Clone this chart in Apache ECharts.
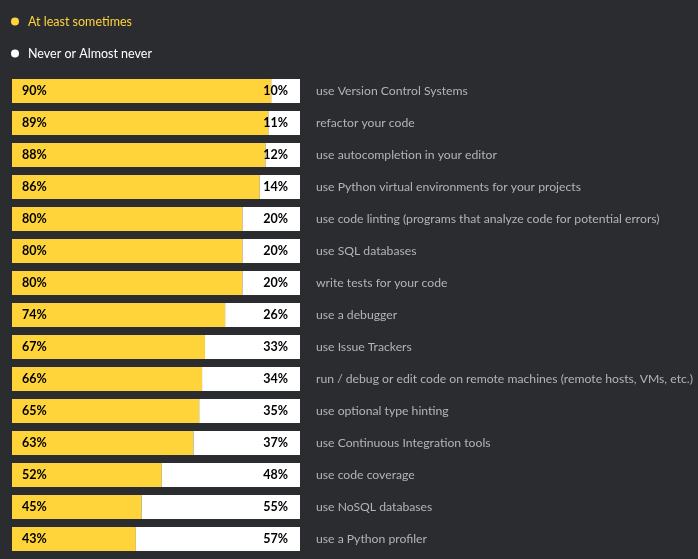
<!DOCTYPE html>
<html><head><meta charset="utf-8">
<script src="https://cdn.jsdelivr.net/npm/echarts@6/dist/echarts.min.js"></script>
<style>html,body{margin:0;padding:0;background:#2b2c30;}#c{width:698px;height:559px;}</style>
</head><body><div id="c"></div>
<script>
const categories = [
  "use Version Control Systems",
  "refactor your code",
  "use autocompletion in your editor",
  "use Python virtual environments for your projects",
  "use code linting (programs that analyze code for potential errors)",
  "use SQL databases",
  "write tests for your code",
  "use a debugger",
  "use Issue Trackers",
  "run / debug or edit code on remote machines (remote hosts, VMs, etc.)",
  "use optional type hinting",
  "use Continuous Integration tools",
  "use code coverage",
  "use NoSQL databases",
  "use a Python profiler"
];
const atLeastSometimes = [90, 89, 88, 86, 80, 80, 80, 74, 67, 66, 65, 63, 52, 45, 43];
const neverOrAlmostNever = [10, 11, 12, 14, 20, 20, 20, 26, 33, 34, 35, 37, 48, 55, 57];
const seriesNames = ["At least sometimes", "Never or Almost never"];

const chart = echarts.init(document.getElementById('c'));
const font = "Lato, 'Noto Sans', sans-serif";
chart.setOption({
  backgroundColor: '#2b2c30',
  animation: false,
  legend: {
    orient: 'vertical', left: 6, top: 10, itemGap: 19,
    icon: 'circle', itemWidth: 8, itemHeight: 8,
    textStyle: { fontFamily: font, fontSize: 12.5, padding: [0, 0, 0, 4] },
    data: [
      { name: seriesNames[0], textStyle: { color: '#ffd43b' } },
      { name: seriesNames[1], textStyle: { color: '#ffffff' } }
    ]
  },
  grid: { left: 12, right: 398, top: 75, bottom: 4, containLabel: false, outerBoundsMode: 'none' },
  xAxis: { type: 'value', min: 0, max: 100, show: false },
  yAxis: {
    type: 'category', data: categories, inverse: true, position: 'right',
    axisLine: { show: false }, axisTick: { show: false },
    axisLabel: { color: '#b4b4b4', fontFamily: font, fontSize: 12.2, margin: 16, align: 'left' }
  },
  series: [
    {
      name: seriesNames[0], type: 'bar', stack: 't', data: atLeastSometimes,
      barWidth: 24, itemStyle: { color: '#ffd43b' },
      label: { show: true, position: 'insideLeft', offset: [5, 0], formatter: '{c}%', color: '#000', fontWeight: 'bold', fontFamily: font, fontSize: 12.5 }
    },
    {
      name: seriesNames[1], type: 'bar', stack: 't', data: neverOrAlmostNever,
      barWidth: 24, itemStyle: { color: '#ffffff' },
      label: { show: true, position: 'insideRight', offset: [-7, 0], formatter: '{c}%', color: '#000', fontWeight: 'bold', fontFamily: font, fontSize: 12.5 }
    }
  ]
});
</script></body></html>
